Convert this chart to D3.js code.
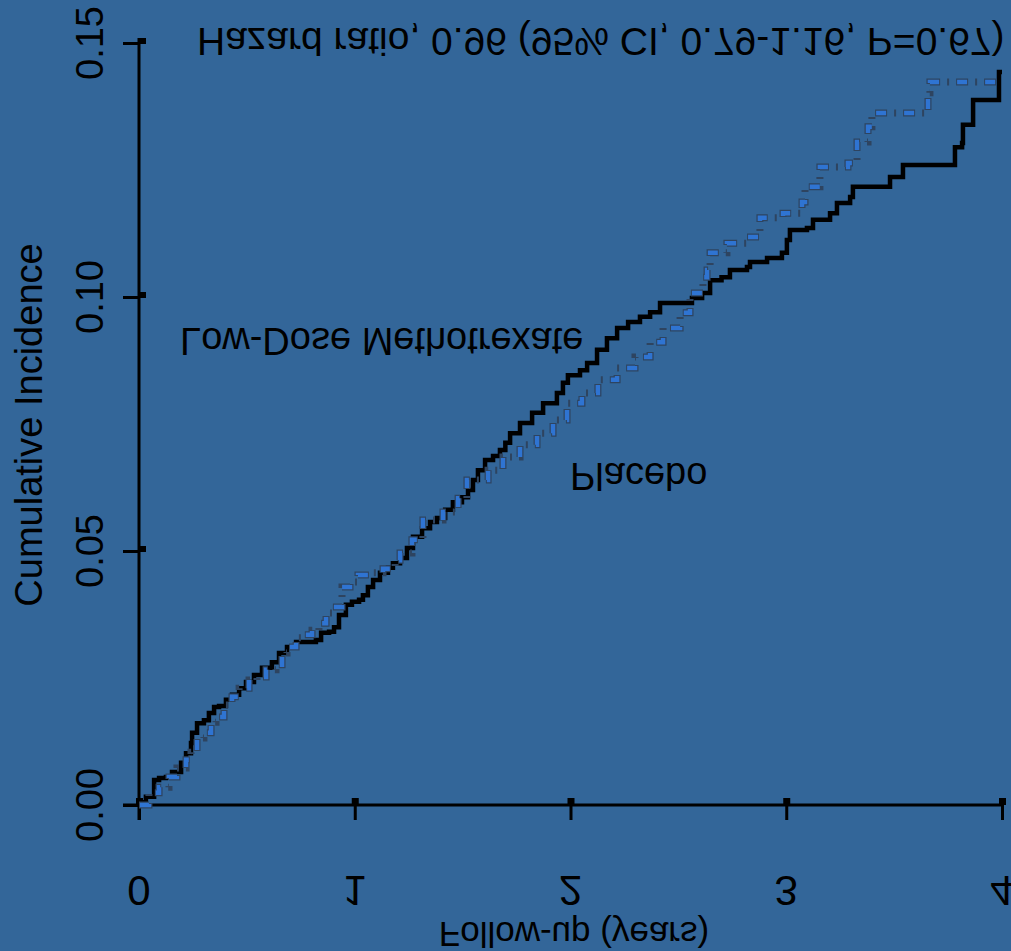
<!DOCTYPE html>
<head>
    <meta charset="utf-8">
    <script src="https://d3js.org/d3.v7.js"></script>
    <style>
        body { margin: 0; background: #336699; }
        text { font-family: "Liberation Sans", Arial, sans-serif; fill: #000; }
    </style>
</head>
<body>
    <svg id="chart" width="1011" height="951"></svg>
    <script>
        // Cumulative incidence, step points [years, incidence]
        const methotrexate = [
            [0, 0], [0.032, 0.0016], [0.07, 0.0049], [0.093, 0.0053], [0.125, 0.0055], [0.153, 0.0065],
            [0.195, 0.0083], [0.218, 0.0102], [0.241, 0.0122], [0.246, 0.0142], [0.269, 0.0161],
            [0.301, 0.0167], [0.324, 0.0181], [0.348, 0.0193], [0.371, 0.0195], [0.403, 0.0207],
            [0.431, 0.0217], [0.464, 0.023], [0.496, 0.0242], [0.533, 0.0256], [0.57, 0.027],
            [0.616, 0.0281], [0.649, 0.0299], [0.686, 0.0311], [0.728, 0.0321], [0.82, 0.0325],
            [0.844, 0.0339], [0.881, 0.0341], [0.904, 0.035], [0.927, 0.0374], [0.959, 0.0394],
            [0.987, 0.04], [1.02, 0.0404], [1.038, 0.0413], [1.061, 0.0429], [1.085, 0.0443],
            [1.117, 0.0457], [1.154, 0.0467], [1.177, 0.0476], [1.21, 0.0486], [1.242, 0.0506],
            [1.27, 0.0528], [1.312, 0.0545], [1.349, 0.0557], [1.381, 0.0565], [1.419, 0.0581],
            [1.455, 0.0596], [1.497, 0.0606], [1.525, 0.062], [1.548, 0.064], [1.571, 0.0659],
            [1.604, 0.0679], [1.641, 0.0687], [1.673, 0.0699], [1.698, 0.0713], [1.72, 0.0732],
            [1.766, 0.0752], [1.822, 0.0772], [1.873, 0.0791], [1.937, 0.0811], [1.965, 0.0831],
            [1.988, 0.0846], [2.044, 0.0856], [2.077, 0.087], [2.123, 0.0896], [2.169, 0.0919],
            [2.216, 0.0939], [2.267, 0.0951], [2.322, 0.0961], [2.369, 0.097], [2.415, 0.0988],
            [2.563, 0.0998], [2.61, 0.1008], [2.647, 0.1033], [2.7, 0.1039], [2.739, 0.1053],
            [2.818, 0.1059], [2.832, 0.1069], [2.911, 0.1077], [2.98, 0.1087], [3.003, 0.1112],
            [3.017, 0.1132], [3.096, 0.1136], [3.124, 0.1152], [3.203, 0.1165], [3.235, 0.1185],
            [3.296, 0.1197], [3.309, 0.1217], [3.481, 0.1236], [3.541, 0.126], [3.782, 0.1295],
            [3.815, 0.1303], [3.819, 0.1339], [3.866, 0.1388], [3.986, 0.1443], [4.0, 0.1443]
        ];
        const placebo = [
            [0, 0], [0.046, 0.0024], [0.093, 0.0035], [0.139, 0.0055], [0.176, 0.0073], [0.218, 0.0089],
            [0.241, 0.0104], [0.269, 0.0132], [0.301, 0.0142], [0.334, 0.0163], [0.357, 0.0173],
            [0.394, 0.0197], [0.431, 0.0213], [0.464, 0.023], [0.51, 0.0246], [0.547, 0.0252],
            [0.589, 0.0266], [0.635, 0.0276], [0.663, 0.0299], [0.686, 0.0311], [0.728, 0.0329],
            [0.765, 0.0335], [0.802, 0.0344], [0.834, 0.0358], [0.867, 0.0378], [0.895, 0.039],
            [0.941, 0.0429], [0.978, 0.0439], [1.015, 0.0453], [1.071, 0.0457], [1.131, 0.0465],
            [1.187, 0.0482], [1.21, 0.0496], [1.265, 0.0522], [1.316, 0.0561], [1.409, 0.0577],
            [1.479, 0.0604], [1.52, 0.064], [1.618, 0.0659], [1.687, 0.0685], [1.766, 0.0709],
            [1.845, 0.0732], [1.919, 0.0758], [1.984, 0.0791], [2.053, 0.0811], [2.127, 0.0837],
            [2.216, 0.086], [2.299, 0.0882], [2.369, 0.0911], [2.429, 0.0939], [2.508, 0.0969],
            [2.554, 0.1008], [2.614, 0.1039], [2.633, 0.1053], [2.647, 0.1087], [2.725, 0.1106],
            [2.818, 0.1118], [2.878, 0.1156], [2.985, 0.1165], [3.073, 0.1187], [3.087, 0.1217],
            [3.156, 0.1256], [3.286, 0.1264], [3.328, 0.1305], [3.379, 0.1335], [3.397, 0.1362],
            [3.634, 0.1362], [3.657, 0.1402], [3.666, 0.1423], [4.0, 0.1423]
        ];
        const xTicks = [0, 1, 2, 3, 4];
        const yTicks = [0, 0.05, 0.10, 0.15];
        const yTickLabels = ["0.00", "0.05", "0.10", "0.15"];
        const title = "Hazard ratio, 0.96 (95% CI, 0.79-1.16, P=0.67)";

        const svg = d3.select("#chart");
        svg.append("rect").attr("width", 1011).attr("height", 951).attr("fill", "#336699");

        const x = d3.scaleLinear().domain([0, 4]).range([139, 1002]);
        const y = d3.scaleLinear().domain([0, 0.15]).range([805, 43]);

        // axes (labels drawn by hand below, they are flipped)
        const gy = svg.append("g").attr("transform", "translate(139,0)")
            .call(d3.axisLeft(y).tickValues(yTicks).tickSize(16).tickSizeOuter(0).tickFormat(""));
        const gx = svg.append("g").attr("transform", "translate(0,805)")
            .call(d3.axisBottom(x).tickValues(xTicks).tickSize(15).tickSizeOuter(0).tickFormat(""));
        gy.select(".domain").attr("d", "M0,38V820");
        gx.select(".domain").attr("d", "M123,0H1003");
        svg.selectAll(".domain, .tick line").attr("stroke", "#000").attr("stroke-width", 3);

        // little squares on the ticks
        svg.selectAll(".ysq").data(yTicks).join("rect")
            .attr("x", 139).attr("y", d => y(d) - 5).attr("width", 7).attr("height", 6).attr("fill", "#000");
        svg.selectAll(".xsq").data(xTicks).join("rect")
            .attr("x", d => x(d) - 3).attr("y", 798).attr("width", 7).attr("height", 7).attr("fill", "#000");

        // y tick labels (rotated)
        svg.selectAll(".ylab").data(yTicks).join("text")
            .attr("transform", (d, i) => `translate(103,${y(d)}) rotate(-90)`)
            .attr("text-anchor", "middle").attr("font-size", 38)
            .text((d, i) => yTickLabels[i]);

        svg.append("text")
            .attr("transform", "translate(42,425) rotate(-90)")
            .attr("text-anchor", "middle").attr("font-size", 38)
            .text("Cumulative Incidence");

        // flipped texts
        function flipped(str, px, py, size, anchor) {
            svg.append("text")
                .attr("transform", `translate(${px},${py}) scale(1,-1)`)
                .attr("text-anchor", anchor).attr("font-size", size)
                .text(str);
        }
        xTicks.forEach(d => flipped(String(d), x(d), 876, 42, "middle"));
        flipped("Follow-up (years)", 574, 922, 35, "middle");
        flipped(title, 197, 28, 39, "start");
        flipped("Low-Dose Methotrexate", 180, 328, 38, "start");
        flipped("Placebo", 570, 463, 38, "start");

        // curves
        const line = d3.line().x(d => x(d[0])).y(d => y(d[1])).curve(d3.curveStepAfter);
        svg.append("path").datum(methotrexate).attr("d", line)
            .attr("fill", "none").attr("stroke", "#000").attr("stroke-width", 4.5);
        svg.append("path").datum(placebo).attr("d", line)
            .attr("fill", "none").attr("stroke", "#2e4460").attr("stroke-width", 7)
            .attr("stroke-dasharray", "12,7,2,7");
        svg.append("path").datum(placebo).attr("d", line)
            .attr("fill", "none").attr("stroke", "#2f74d2").attr("stroke-width", 4.5)
            .attr("stroke-dasharray", "10,18").attr("stroke-dashoffset", -1);
    </script>
</body>
